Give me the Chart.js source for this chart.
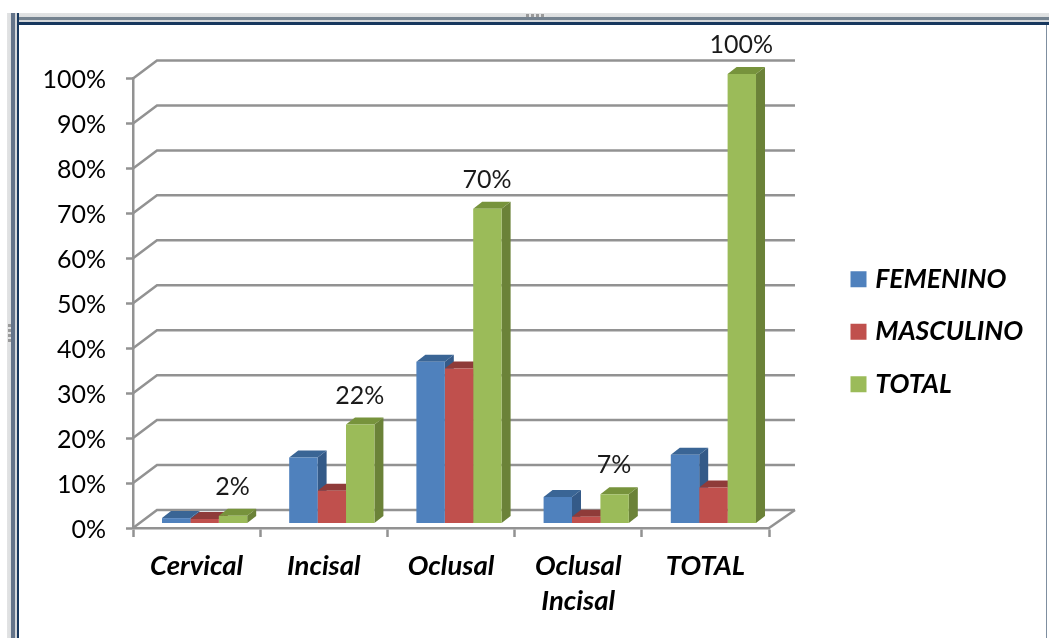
<!DOCTYPE html>
<html><head><meta charset="utf-8">
<script src="https://cdn.jsdelivr.net/npm/chart.js@4"></script>
<style>
html,body{margin:0;padding:0;background:#fff;width:1049px;height:638px;overflow:hidden}
#top{position:absolute;left:7px;top:13px;width:1042px;height:12px;background:linear-gradient(#e2e3e4 0,#dcdedf 4px,#74828f 4px,#74828f 7px,#d3d6d9 7px,#d3d6d9 9px,#17375e 9px,#17375e 12px)}
#left{position:absolute;left:7px;top:13px;width:12px;height:625px;background:linear-gradient(90deg,#e2e3e4 0,#dcdedf 4px,#64748a 4px,#64748a 8px,#d3d6d9 8px,#d3d6d9 10px,#17375e 10px,#17375e 12px)}
#right{position:absolute;left:1046px;top:25px;width:1px;height:613px;background:#7f8fa0}
#gripT{position:absolute;left:526px;top:14px;width:20px;height:3px;background:repeating-linear-gradient(90deg,#9a9a9a 0,#9a9a9a 3px,#e2e3e4 3px,#e2e3e4 5px)}
#gripL{position:absolute;left:8px;top:324px;width:3px;height:20px;background:repeating-linear-gradient(#9a9a9a 0,#9a9a9a 3px,#e2e3e4 3px,#e2e3e4 5px)}
canvas{position:absolute;left:0;top:0}
</style></head><body>
<div id="top"></div><div id="left"></div><div id="right"></div><div id="gripT"></div><div id="gripL"></div>
<canvas id="c" width="1049" height="638"></canvas>
<script>
const categories=["Cervical","Incisal","Oclusal",["Oclusal","Incisal"],"TOTAL"];
const femenino=[1.2,14.7,36,5.9,15.3];
const masculino=[1.0,7.3,34.5,1.5,8];
const total=[1.7,22,70,6.5,100];
const seriesNames=["FEMENINO","MASCULINO","TOTAL"];
const frontColors=["#4F81BD","#C0504D","#9BBB59"];
const topColors=["#3A6595","#8F3B39","#77933C"];
const sideColors=["#345A88","#8A3836","#6B8238"];
const BAR_DX=8,BAR_DY=-4.5,DEPTH_X=9,DEPTH_Y=-7,WALL_X=24,WALL_Y=-18;
const LINE="#929292";
const LINE_W=2.5;
const poly=(ctx,pts,fill)=>{ctx.beginPath();pts.forEach((p,i)=>i?ctx.lineTo(p[0],p[1]):ctx.moveTo(p[0],p[1]));ctx.closePath();ctx.fillStyle=fill;ctx.fill();};
const threeD={
 id:"threeD",
 afterLayout(chart){
  const l=chart.legend;const w=l.width,h=l.height;
  l.left=829;l.top=240;l.right=829+w;l.bottom=240+h;
 },
 beforeDatasetsDraw(chart){
  const ctx=chart.ctx,ys=chart.scales.y,a=chart.chartArea;
  ctx.save();
  ctx.strokeStyle=LINE;ctx.lineWidth=LINE_W;
  ys.ticks.forEach(t=>{
   const y=ys.getPixelForValue(t.value);
   ctx.beginPath();
   ctx.moveTo(a.left,y);ctx.lineTo(a.left+WALL_X,y+WALL_Y);ctx.lineTo(a.right+WALL_X+2,y+WALL_Y);
   ctx.stroke();
  });
  ctx.beginPath();
  ctx.moveTo(a.right,a.bottom);ctx.lineTo(a.right+WALL_X+2,a.bottom+WALL_Y);
  ctx.stroke();
  ctx.translate(BAR_DX,BAR_DY);
  chart.data.datasets.forEach((d,di)=>{
   chart.getDatasetMeta(di).data.forEach(b=>{
    const p=b.getProps(["x","y","base","width"],true);
    const L=p.x-p.width/2,R=p.x+p.width/2;
    poly(ctx,[[R,p.y],[R+DEPTH_X,p.y+DEPTH_Y],[R+DEPTH_X,p.base+DEPTH_Y],[R,p.base]],sideColors[di]);
    poly(ctx,[[L,p.y],[L+DEPTH_X,p.y+DEPTH_Y],[R+DEPTH_X,p.y+DEPTH_Y],[R,p.y]],topColors[di]);
   });
  });
 },
 afterDatasetsDraw(chart){
  const ctx=chart.ctx;
  const meta=chart.getDatasetMeta(2);
  ctx.font="25px Lato";ctx.fillStyle="#1a1a1a";ctx.textAlign="center";ctx.textBaseline="middle";
  meta.data.forEach((b,i)=>{
   ctx.fillText(Math.round(total[i])+"%",b.x-0.5,b.y-29);
  });
  ctx.restore();
 }
};
new Chart(document.getElementById("c"),{
 type:"bar",
 data:{labels:categories,datasets:[
  {label:seriesNames[0],data:femenino,backgroundColor:frontColors[0]},
  {label:seriesNames[1],data:masculino,backgroundColor:frontColors[1]},
  {label:seriesNames[2],data:total,backgroundColor:frontColors[2]}
 ]},
 options:{
  responsive:false,animation:false,
  layout:{padding:{left:0,top:78.5,right:280,bottom:0}},
  datasets:{bar:{barPercentage:1,categoryPercentage:0.67,clip:false,borderWidth:0}},
  plugins:{
   tooltip:{enabled:false},
   legend:{position:"chartArea",align:"start",
    labels:{boxWidth:7,boxHeight:7,padding:26,color:"#000",font:{family:"Lato",size:26.5,weight:"bold",style:"italic"},
     generateLabels:c=>c.data.datasets.map((d,i)=>({text:d.label,fillStyle:frontColors[i],strokeStyle:frontColors[i],lineWidth:9,hidden:false,datasetIndex:i}))}}
  },
  scales:{
   x:{afterFit:s=>{s.height=110;},
    grid:{offset:true,drawOnChartArea:false,drawTicks:true,tickLength:9,tickColor:LINE,tickWidth:LINE_W},
    border:{color:LINE,width:LINE_W},
    ticks:{padding:12,color:"#000",maxRotation:0,autoSkip:false,font:{family:"Lato",size:27.5,weight:"bold",style:"italic",lineHeight:1.27}}},
   y:{min:0,max:100,afterFit:s=>{s.width=133;},
    grid:{drawOnChartArea:false,drawTicks:true,tickLength:7,tickColor:LINE,tickWidth:LINE_W},
    border:{color:LINE,width:LINE_W},
    ticks:{stepSize:10,padding:20,labelOffset:1.5,color:"#000",font:{family:"Lato",size:25},callback:v=>v+"%"}}
  }
 },
 plugins:[threeD]
});
</script>
</body></html>
